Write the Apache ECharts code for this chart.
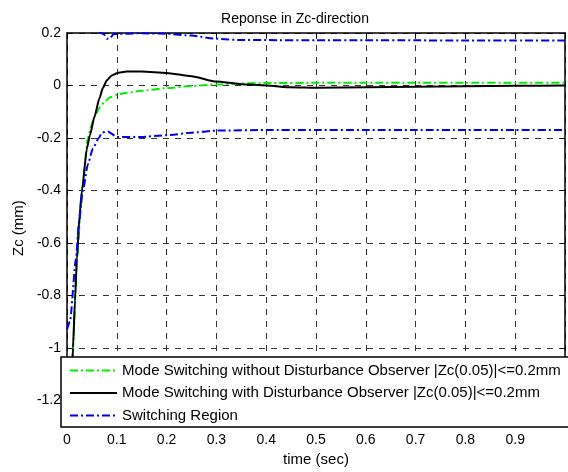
<!DOCTYPE html>
<html>
<head>
<meta charset="utf-8">
<script src="https://cdn.jsdelivr.net/npm/echarts@6/dist/echarts.min.js"></script>
<style>
  html, body { margin: 0; padding: 0; background: #fff; }
  #chart { width: 568px; height: 472px; }
</style>
</head>
<body>
<div id="chart"></div>
<script>
// values
const yTicks = [-1.2, -1, -0.8, -0.6, -0.4, -0.2, 0, 0.2]

// without disturbance observer (green)
const tGreen = [0, 0.006, 0.012, 0.02, 0.03, 0.042, 0.048, 0.052, 0.058, 0.066, 0.076, 0.086, 0.1, 0.12, 0.15, 0.2, 0.25, 0.3, 0.35, 0.4, 0.5, 0.6, 0.7, 0.8, 0.9, 1]
const zGreen = [-1.5, -1.29, -1.0, -0.66, -0.4, -0.2, -0.16, -0.136, -0.108, -0.083, -0.06, -0.046, -0.035, -0.028, -0.02, -0.01, -0.002, 0.004, 0.008, 0.009, 0.01, 0.01, 0.01, 0.01, 0.01, 0.01]

// with disturbance observer (black)
const tBlack = [0, 0.01, 0.012, 0.016, 0.02, 0.025, 0.03, 0.04, 0.046, 0.055, 0.065, 0.072, 0.08, 0.09, 0.1, 0.12, 0.15, 0.2, 0.25, 0.3, 0.35, 0.4, 0.45, 0.5, 0.6, 0.7, 0.8, 0.9, 1]
const zBlack = [-1.6, -1.1, -1.0, -0.82, -0.66, -0.5, -0.4, -0.24, -0.19, -0.12, -0.05, -0.01, 0.02, 0.038, 0.047, 0.053, 0.053, 0.048, 0.035, 0.015, 0.005, 0, -0.007, -0.009, -0.007, -0.005, -0.003, -0.001, 0]

// switching region (blue), upper and lower bound
const tUpper = [0, 0.06, 0.068, 0.074, 0.08, 0.086, 0.094, 0.15, 0.2, 0.25, 0.3, 0.35, 0.4, 0.5, 0.6, 0.7, 0.8, 0.9, 1]
const zUpper = [0.22, 0.21, 0.2, 0.195, 0.178, 0.18, 0.196, 0.199, 0.197, 0.19, 0.178, 0.173, 0.173, 0.172, 0.172, 0.172, 0.171, 0.171, 0.171]
const tLower = [0, 0.006, 0.018, 0.024, 0.032, 0.042, 0.052, 0.064, 0.07, 0.082, 0.1, 0.15, 0.2, 0.25, 0.3, 0.4, 0.5, 0.6, 0.7, 0.8, 0.9, 1]
const zLower = [-0.93, -0.9, -0.66, -0.52, -0.4, -0.3, -0.24, -0.2, -0.18, -0.175, -0.196, -0.196, -0.19, -0.18, -0.172, -0.17, -0.17, -0.17, -0.17, -0.17, -0.17, -0.17]

const nameGreen = 'Mode Switching without Disturbance Observer |Zc(0.05)|<=0.2mm'
const nameBlack = 'Mode Switching with Disturbance Observer |Zc(0.05)|<=0.2mm'
const nameBlue = 'Switching Region'

const font = 'Liberation Sans, Arial, sans-serif'
const dashDot = [8, 3, 2, 3]

function pairs(ts, zs) {
  return ts.map((t, i) => [t, zs[i]])
}

function fmt(v) {
  return String(+v.toFixed(1))
}

function lineSeries(name, ts, zs, color, type) {
  return {
    name: name,
    type: 'line',
    data: pairs(ts, zs),
    symbol: 'none',
    smooth: 0.2,
    smoothMonotone: 'x',
    lineStyle: { color: color, width: 2, type: type },
    itemStyle: { color: color },
    z: 3
  }
}

const chart = echarts.init(document.getElementById('chart'))

const gridDash = { show: true, lineStyle: { color: '#333', type: [6, 6], width: 1 } }
const frameLine = { show: true, onZero: false, lineStyle: { color: '#000', width: 1.5 } }

const option = {
  backgroundColor: '#fff',
  animation: false,
  title: {
    text: 'Reponse in Zc-direction',
    left: 290,
    textAlign: 'center',
    top: 7,
    textStyle: { fontFamily: font, fontSize: 14, fontWeight: 'normal', color: '#000' }
  },
  grid: { left: 67, right: 1, top: 33, bottom: 45, show: false },
  legend: {
    orient: 'vertical',
    left: 61,
    top: 357,
    padding: [6, 12, 4, 8],
    itemGap: 7.5,
    itemWidth: 47,
    itemHeight: 14,
    backgroundColor: '#fff',
    borderColor: '#000',
    borderWidth: 1.5,
    borderRadius: 0,
    itemStyle: { opacity: 0 },
    textStyle: { fontFamily: font, fontSize: 15, lineHeight: 14, color: '#000' },
    data: [nameGreen, nameBlack, nameBlue]
  },
  xAxis: [{
    type: 'value',
    min: 0,
    max: 1,
    interval: 0.1,
    name: 'time (sec)',
    nameLocation: 'middle',
    nameGap: 26,
    nameTextStyle: { fontFamily: font, fontSize: 15, color: '#000' },
    axisLine: frameLine,
    axisTick: { show: true, inside: true, length: 5, lineStyle: { color: '#000' } },
    axisLabel: {
      fontFamily: font, fontSize: 14, color: '#000', margin: 10,
      formatter: v => (v >= 0.99 ? '' : fmt(v))
    },
    splitLine: gridDash
  }, {
    type: 'value',
    position: 'top',
    min: 0,
    max: 1,
    interval: 0.1,
    axisLine: frameLine,
    axisTick: { show: true, inside: true, length: 5, lineStyle: { color: '#000' } },
    axisLabel: { show: false },
    splitLine: { show: false }
  }],
  yAxis: [{
    type: 'value',
    min: -1.287,
    max: 0.2,
    name: 'Zc (mm)',
    nameLocation: 'middle',
    nameGap: 31,
    nameTextStyle: { fontFamily: font, fontSize: 15, color: '#000' },
    axisLine: frameLine,
    axisTick: { show: true, inside: true, length: 5, customValues: yTicks, lineStyle: { color: '#000' } },
    axisLabel: {
      fontFamily: font, fontSize: 14, color: '#000', margin: 6,
      customValues: yTicks,
      formatter: v => fmt(v)
    },
    splitLine: gridDash
  }, {
    type: 'value',
    position: 'right',
    min: -1.287,
    max: 0.2,
    axisLine: frameLine,
    axisTick: { show: true, inside: true, length: 5, customValues: yTicks, lineStyle: { color: '#000' } },
    axisLabel: { show: false },
    splitLine: { show: false }
  }],
  series: [
    lineSeries(nameGreen, tGreen, zGreen, '#00ee00', dashDot),
    lineSeries(nameBlack, tBlack, zBlack, '#000000', 'solid'),
    lineSeries(nameBlue, tUpper, zUpper, '#0000ee', dashDot),
    lineSeries(nameBlue, tLower, zLower, '#0000ee', dashDot)
  ]
}

chart.setOption(option)
</script>
</body>
</html>
